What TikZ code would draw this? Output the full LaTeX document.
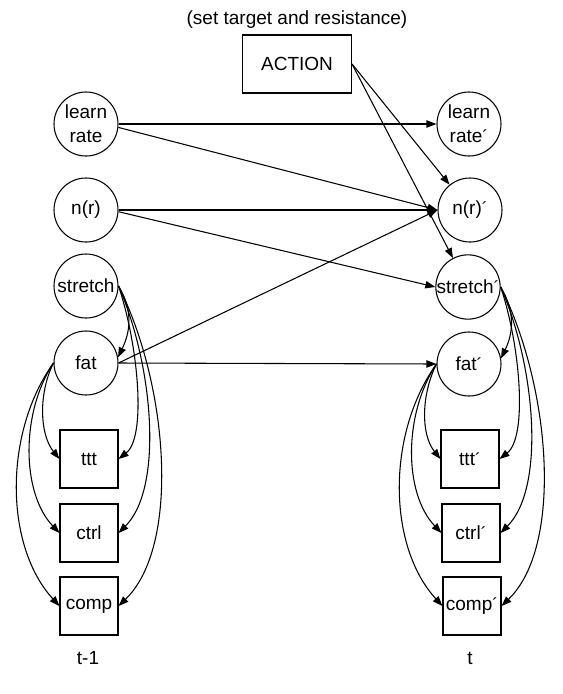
\documentclass[tikz,border=0pt]{standalone}
\usepackage{fontspec}
\setmainfont{Liberation Sans}
\usetikzlibrary{arrows.meta}

\newcommand{\nxt}{{\fontsize{13}{13}\selectfont ´}}

\begin{document}
\begin{tikzpicture}[x=0.75pt,y=-0.75pt,line width=0.8pt,
  font=\fontsize{14.25}{18}\selectfont,
  var/.style={circle,draw,minimum size=48pt,inner sep=0pt,align=center},
  obs/.style={draw,minimum size=43.5pt,inner sep=0pt},
  arr/.style={-{Triangle[length=7.5pt,width=5.5pt]}}]
  \useasboundingbox (0,0) rectangle (562,694);

  % Action on top
  \node (note) at (297,20) {(set target and resistance)};
  \node[draw,minimum width=81.75pt,minimum height=43.5pt] (act) at (297,64) {ACTION};

  % Time slice t-1
  \node[var] (lrate1) at (86,124) {learn\\rate};
  \node[var] (nr1) at (86,210) {n(r)};
  \node[var] (stretch1) at (86,286) {stretch};
  \node[var] (fat1) at (86,363) {fat};
  \node[obs] (ttt1) at (89,459) {ttt};
  \node[obs] (ctrl1) at (89,533) {ctrl};
  \node[obs] (comp1) at (89,606) {comp};
  \node (tlast) at (88,658) {t-1};

  % Time slice t
  \node[var] (lrate2) at (469,124) {learn\\rate\nxt};
  \node[var] (nr2) at (470,210) {n(r)\nxt};
  \node[var] (stretch2) at (468,287) {stretch\nxt};
  \node[var] (fat2) at (469,364) {fat\nxt};
  \node[obs] (ttt2) at (470,459) {ttt\nxt};
  \node[obs] (ctrl2) at (471,533) {ctrl\nxt};
  \node[obs] (comp2) at (472,606) {comp\nxt};
  \node (tnow) at (470,658) {t};

  % Links between the slices
  \draw[arr] (lrate1.east) -- (lrate2.west);
  \draw[arr] (lrate1.-6) -- (nr2.west);
  \draw[arr] (nr1.east) -- (nr2.west);
  \draw[arr] (nr1.-3) -- (stretch2.west);
  \draw[arr] (fat1.east) -- (nr2.west);
  \draw[arr] (fat1.east) -- (fat2.west);
  \draw[arr] (act.east) -- (nr2);
  \draw[arr] (act.east) -- (stretch2);

  % Links inside slice t-1
  \draw[arr] (stretch1.east) .. controls +(15,25) and +(12,-25) .. (fat1.10);
  \draw[arr] (stretch1.east) .. controls +(20,60) and +(28,-22) .. (ttt1.east);
  \draw[arr] (stretch1.east) .. controls +(35,80) and +(45,-45) .. (ctrl1.east);
  \draw[arr] (stretch1.east) .. controls +(50,100) and +(62,-60) .. (comp1.east);
  \draw[arr] (fat1.west) .. controls +(-15,30) and +(-20,-25) .. (ttt1.west);
  \draw[arr] (fat1.west) .. controls +(-33,50) and +(-38,-40) .. (ctrl1.west);
  \draw[arr] (fat1.west) .. controls +(-50,70) and +(-55,-60) .. (comp1.west);

  % Links inside slice t
  \draw[arr] (stretch2.east) .. controls +(15,25) and +(12,-25) .. (fat2.10);
  \draw[arr] (stretch2.east) .. controls +(20,60) and +(28,-22) .. (ttt2.east);
  \draw[arr] (stretch2.east) .. controls +(35,80) and +(45,-45) .. (ctrl2.east);
  \draw[arr] (stretch2.east) .. controls +(50,100) and +(62,-60) .. (comp2.east);
  \draw[arr] (fat2.west) .. controls +(-15,30) and +(-20,-25) .. (ttt2.west);
  \draw[arr] (fat2.west) .. controls +(-33,50) and +(-38,-40) .. (ctrl2.west);
  \draw[arr] (fat2.west) .. controls +(-50,70) and +(-55,-60) .. (comp2.west);

\end{tikzpicture}
\end{document}
